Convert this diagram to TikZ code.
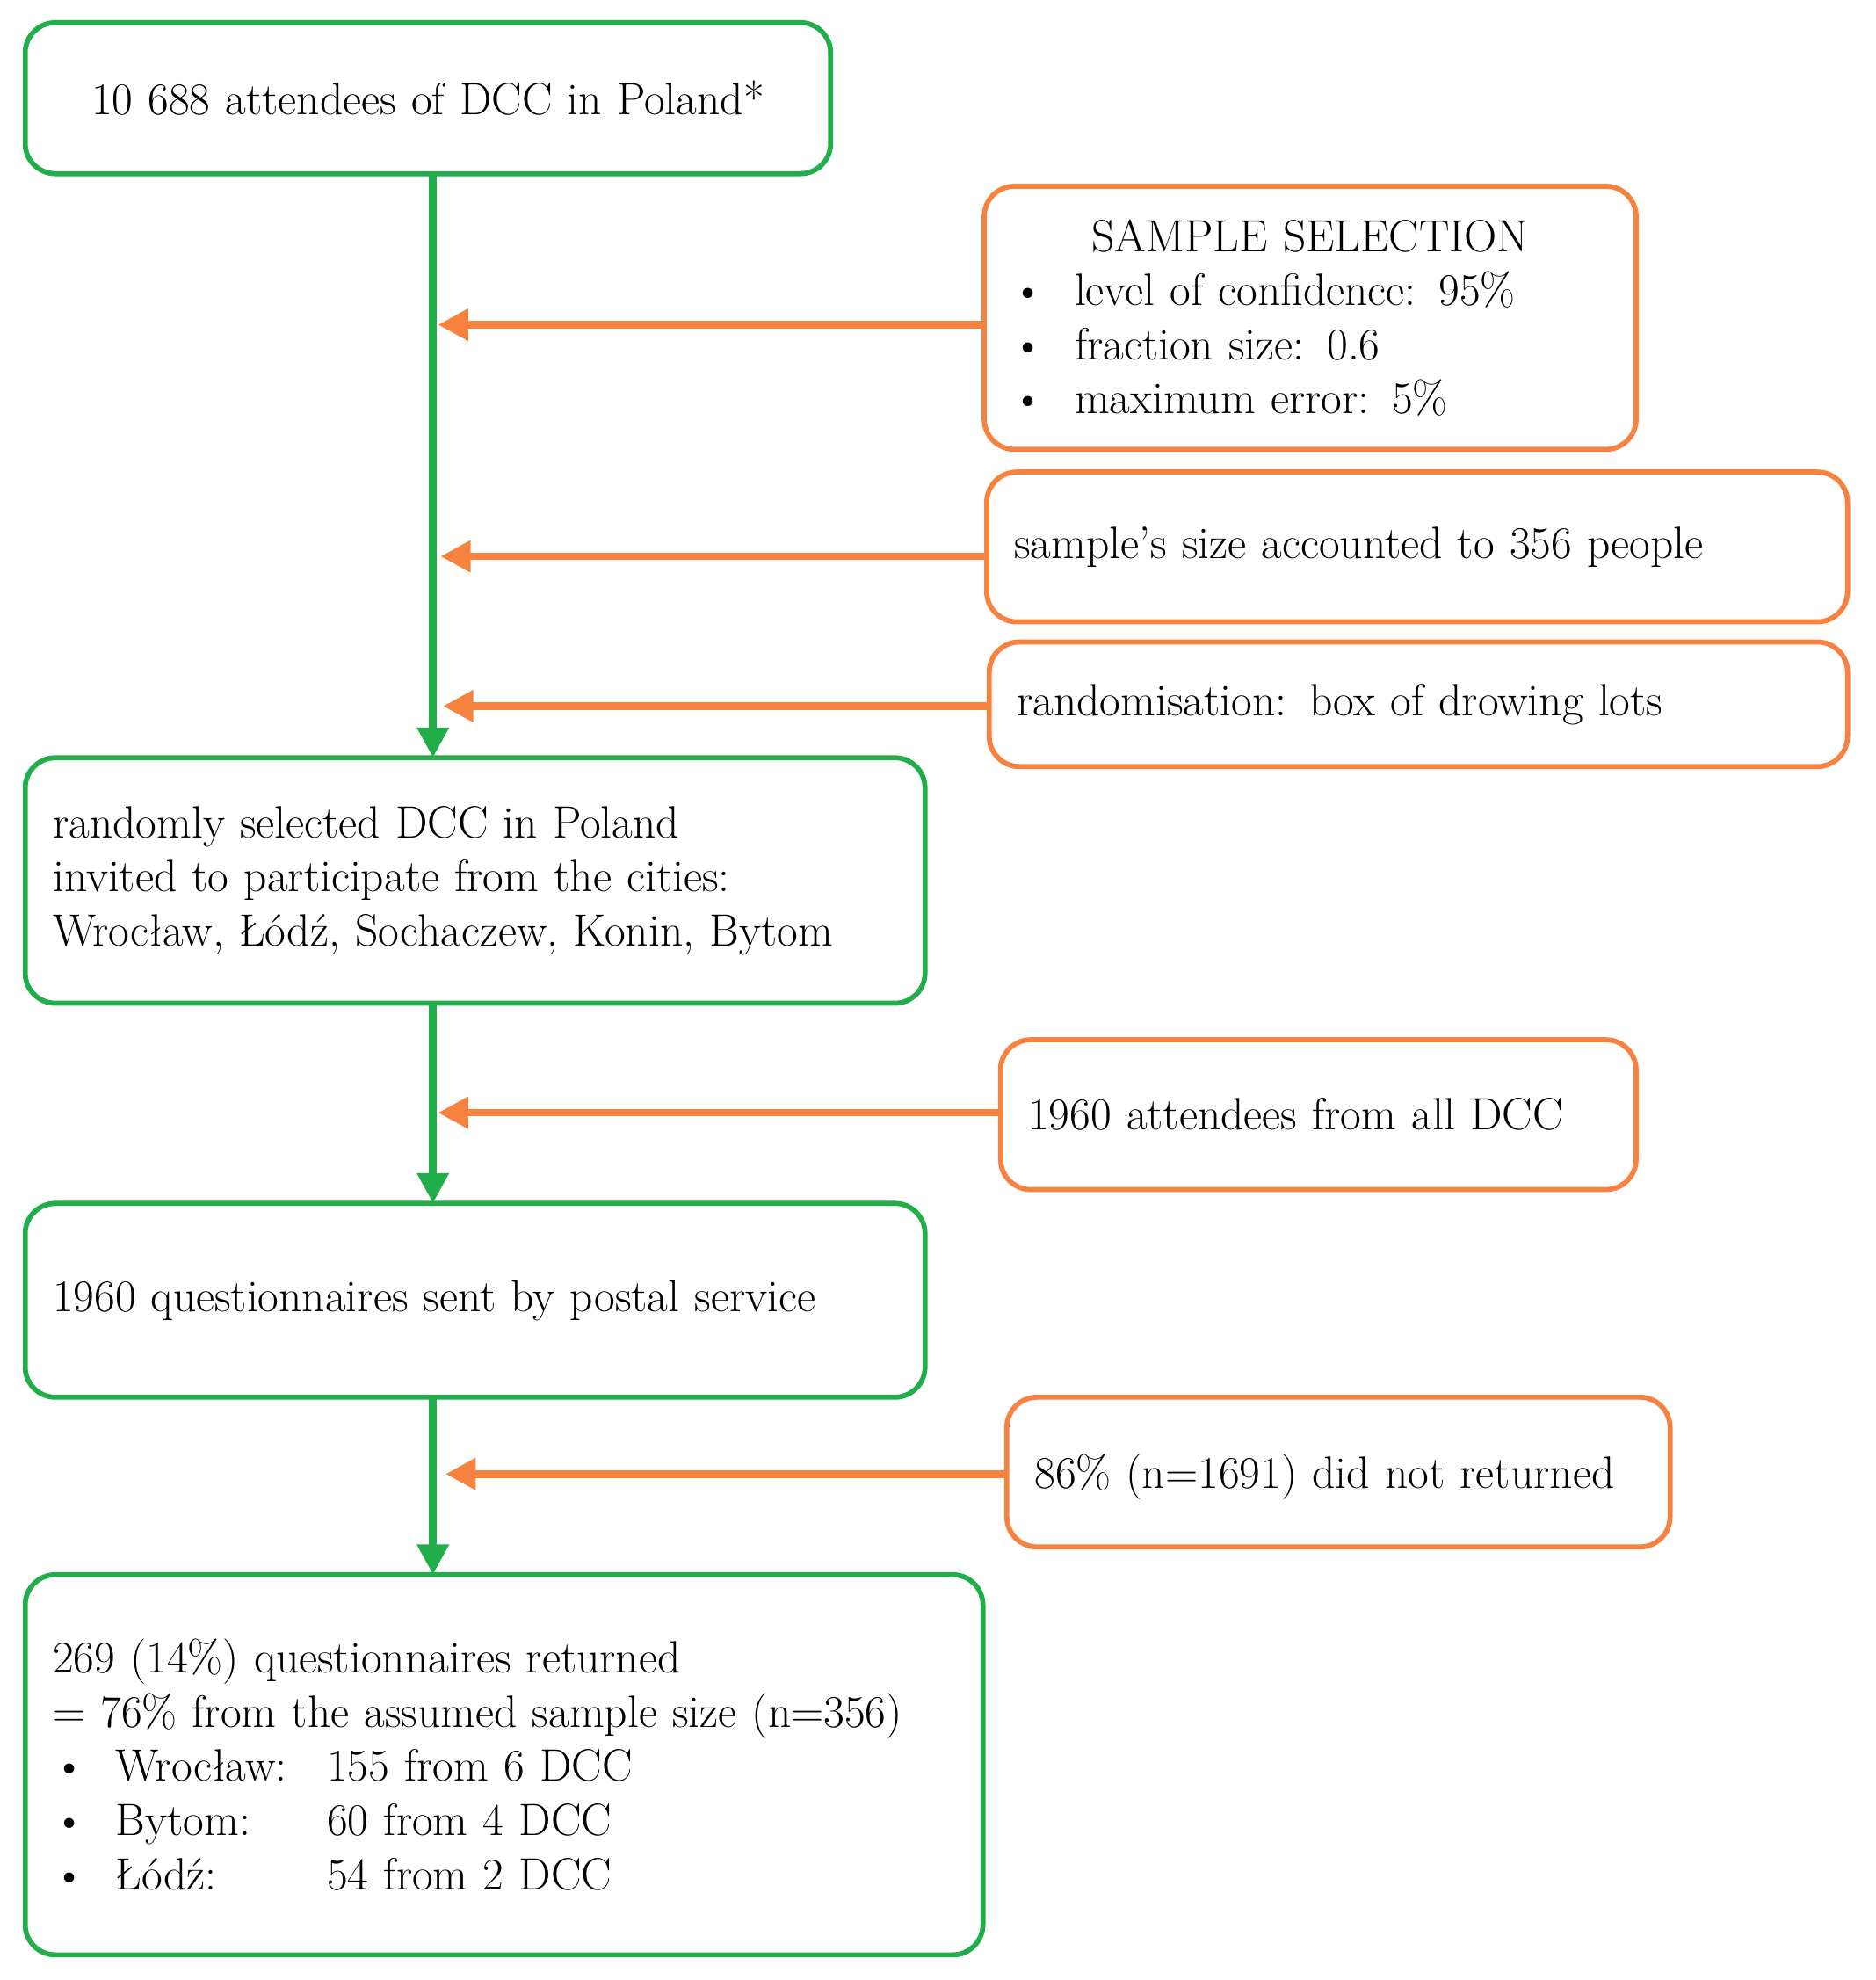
\documentclass[tikz,border=0pt]{standalone}
\usetikzlibrary{arrows.meta}
\begin{document}
\begin{tikzpicture}[x=0.5pt,y=-0.5pt,
  box/.style={draw,line width=2pt,rounded corners=12pt,inner xsep=11pt,align=left,font=\fontsize{18}{21.5}\selectfont},
  gbox/.style={box,draw=gr},
  obox/.style={box,draw=orr},
  garr/.style={draw=gr,line width=3pt,-{Triangle[length=12pt,width=12pt]}},
  oarr/.style={draw=orr,line width=3pt,-{Triangle[length=12pt,width=12pt]}}]
\definecolor{gr}{HTML}{22AD4B}
\definecolor{orr}{HTML}{F7813F}
\useasboundingbox (0,0) rectangle (1490,1573);
\newcommand\bx[6]{\node[#1,minimum width=#4*0.5pt-#2*0.5pt,minimum height=#5*0.5pt-#3*0.5pt,text width=#4*0.5pt-#2*0.5pt-22pt] (#6) at ({(#2+#4)/2},{(#3+#5)/2})}
\bx{gbox,align=center}{20}{18}{660}{138}{b1} {10 688 attendees of DCC in Poland*};
\bx{obox}{782}{148}{1300}{357}{ss} {\makebox[\linewidth][c]{SAMPLE SELECTION}\\
\textbullet\hspace{12pt}level of confidence: 95\%\\
\textbullet\hspace{12pt}fraction size: 0.6\\
\textbullet\hspace{12pt}maximum error: 5\%};
\bx{obox}{784}{375}{1468}{494}{sz} {sample's size accounted to 356 people};
\bx{obox}{786}{510}{1468}{609}{rd} {randomisation: box of drowing lots\\[14pt]};
\bx{gbox}{20}{602}{735}{797}{b2} {randomly selected DCC in Poland\\invited to participate from the cities:\\Wroc\l{}aw, \L{}\'od\'z, Sochaczew, Konin, Bytom};
\bx{obox}{795}{826}{1300}{945}{at} {1960 attendees from all DCC};
\bx{gbox}{20}{956}{735}{1110}{b3} {1960 questionnaires sent by postal service};
\bx{obox}{800}{1110}{1327}{1229}{nr} {\\[-4pt]86\% (n=1691) did not returned};
\bx{gbox}{20}{1251}{781}{1553}{b4} {269 (14\%) questionnaires returned\\
= 76\% from the assumed sample size (n=356)\\
\textbullet\hspace{12pt}\makebox[84pt][l]{Wroc\l{}aw:}155 from 6 DCC\\
\textbullet\hspace{12pt}\makebox[84pt][l]{Bytom:}60 from 4 DCC\\
\textbullet\hspace{12pt}\makebox[84pt][l]{\L{}\'od\'z:}54 from 2 DCC\\[6pt]};
\coordinate (m1) at (344,138);
\draw[garr] (m1) -- (344,602);
\draw[garr] (344,797) -- (344,956);
\draw[garr] (344,1110) -- (344,1251);
\draw[oarr] (ss.west |- 0,258) -- (348,258);
\draw[oarr] (sz.west |- 0,442) -- (350,442);
\draw[oarr] (rd.west |- 0,561) -- (352,561);
\draw[oarr] (at.west |- 0,884) -- (348,884);
\draw[oarr] (nr.west |- 0,1171) -- (354,1171);
\end{tikzpicture}
\end{document}
